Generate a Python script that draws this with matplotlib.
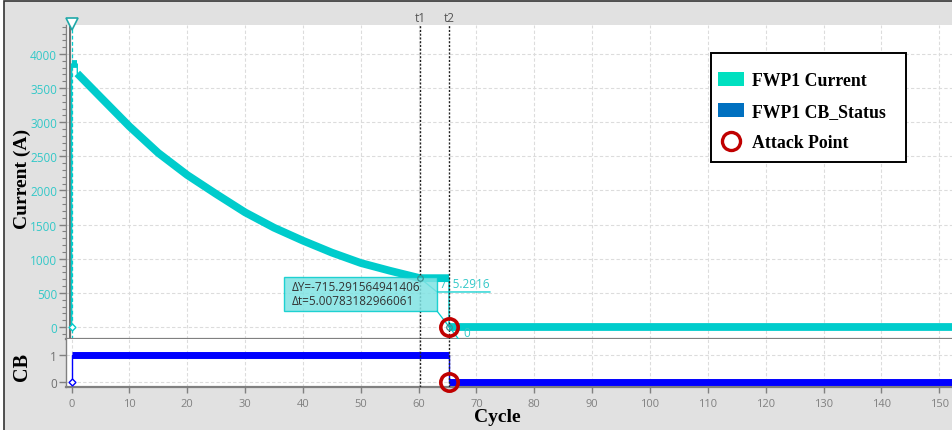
import matplotlib
matplotlib.use('Agg')
import matplotlib.pyplot as plt
from matplotlib.patches import Rectangle, Patch
from matplotlib.lines import Line2D
from matplotlib.ticker import MultipleLocator

# ---------------- data ----------------
delta_y = -715.291564941406
delta_t = 5.00783182966061
t1 = 60.25
t2 = t1 + delta_t
x_end = 153.0

current_cycle = [0.0, 0.0, 1.0, 1.0, 5, 10, 15, 20, 25, 30, 35, 40, 45, 50, 55, t1, t2, t2, x_end]
current_amp = [0, 3853, 3853, 3715, 3370, 2940, 2550, 2227, 1949, 1680, 1455, 1265, 1090, 938, 825,
               715.29, 715.29, 0, 0]
cb_cycle = [0.0, 0.0, t2, t2, x_end]
cb_status = [0, 1, 1, 0, 0]
attack_cycle = [t2]
attack_current = [0]
attack_cb = [0]
x_ticks = list(range(0, 151, 10))
cur_ticks = list(range(0, 4001, 500))
cb_ticks = [0, 1]
legend_labels = ['FWP1 Current', 'FWP1 CB_Status', 'Attack Point']

# ---------------- style ----------------
W, H = 953, 431
CYAN = '#00CCCC'
CYAN_TXT = '#33C8C8'
BLUE = '#0000FF'
RED = '#C00000'
GRAY = '#808080'
GRID = '#DCDCDC'
SANS = ['Open Sans', 'DejaVu Sans']
SERIF = ['Liberation Serif', 'DejaVu Serif']
plt.rcParams['font.family'] = SANS


def fx(px):
    return px / W


def fy(py):
    return 1 - py / H


def runs(xs, ys):
    segs, cur = [], [(xs[0], ys[0])]
    for i in range(1, len(xs)):
        if xs[i] == xs[i - 1]:
            segs.append(cur)
            cur = [(xs[i], ys[i])]
        else:
            cur.append((xs[i], ys[i]))
    segs.append(cur)
    return [s for s in segs if len(s) > 1]


fig = plt.figure(figsize=(W / 100, H / 100), dpi=100, facecolor='white')
fig.add_artist(Rectangle((fx(4), -0.02), 1.05, fy(2) + 0.02, transform=fig.transFigure,
                         facecolor='#E1E1E1', edgecolor='#333333', lw=1.2, zorder=-10))

xl = ((66 - 71.5) / 5.785, (953 - 71.5) / 5.785)
ax = fig.add_axes([fx(66), fy(340), 1 - fx(66), (340 - 26) / H])
axb = fig.add_axes([fx(66), fy(388), 1 - fx(66), (388 - 340) / H])

for a in (ax, axb):
    a.set_facecolor('white')
    a.set_xlim(*xl)
    for s in ('top', 'right'):
        a.spines[s].set_visible(False)
    a.spines['left'].set_color(GRAY)
    a.spines['left'].set_linewidth(1.0)
    a.spines['bottom'].set_color(GRAY)
    a.spines['bottom'].set_linewidth(1.6)
    a.set_axisbelow(True)

# ---- top panel ----
ax.set_ylim(-176, 4425)
ax.set_yticks(cur_ticks)
ax.yaxis.set_minor_locator(MultipleLocator(100))
ax.xaxis.set_major_locator(MultipleLocator(50))
ax.xaxis.set_minor_locator(MultipleLocator(10))
ax.tick_params(axis='x', which='major', length=3, width=1, color='#555555', labelbottom=False)
ax.tick_params(axis='x', which='minor', length=0)
ax.tick_params(axis='y', which='major', length=5, width=1, color=GRAY, pad=1.5,
               labelsize=8.5, labelcolor=CYAN_TXT)
ax.tick_params(axis='y', which='minor', length=3, width=0.8, color=GRAY)
ax.grid(axis='x', which='both', color=GRID, lw=0.8, ls=(0, (3, 2)))
ax.grid(axis='y', which='major', color=GRID, lw=0.8, ls=(0, (3, 2)))

ax.axvline(-0.3, color='#707070', lw=1.6, zorder=2)
ax.axvline(0, color=CYAN, lw=0.9, ls=(0, (3, 2)), zorder=2)
ax.plot(current_cycle, current_amp, color=CYAN, lw=1.0, zorder=3)
for seg in runs(current_cycle, current_amp):
    xs, ys = zip(*seg)
    ax.plot(xs, ys, color=CYAN, lw=5.6, solid_capstyle='butt', solid_joinstyle='round', zorder=3)
ax.plot([0], [4445], marker='v', ms=8, mfc='white', mec='#1FA8A8', mew=1.2, clip_on=False, zorder=6)
ax.plot([0], [0], marker='D', ms=3.5, mfc='white', mec=CYAN, mew=1, zorder=6)

# cursors
for a in (ax, axb):
    a.axvline(t1, color='#222222', lw=1.0, ls=(0, (1.5, 1.2)), zorder=4)
    a.axvline(t2, color='#222222', lw=1.0, ls=(0, (1.5, 1.2)), zorder=4)
for t, lab in ((t1, 't1'), (t2, 't2')):
    ax.text(t, 1.003, lab, transform=ax.get_xaxis_transform(), ha='center', va='bottom',
            fontsize=8.5, color='#555555')

# delta box
ax.add_patch(Rectangle((36.73, 234), 63.18 - 36.73, 733 - 234, facecolor='#7FE3E3',
                       edgecolor=CYAN, lw=1, alpha=0.85, zorder=5))
ax.text(38.0, 586, 'ΔY=%s' % repr(delta_y), fontsize=8.5, color='#333333', va='center', ha='left', zorder=6)
ax.text(38.0, 381, 'Δt=%s' % repr(delta_t), fontsize=8.5, color='#333333', va='center', ha='left', zorder=6)
ax.plot([t1, 63.18, 72.34], [715.29, 513, 513], color=CYAN, lw=0.9, zorder=4)
ax.text(63.6, 640, '%.4f' % (-delta_y), fontsize=8.5, color=CYAN_TXT, va='center', ha='left', zorder=2)
ax.plot([63.18, 67.16, 69.2], [234, -205, -205], color=CYAN, lw=0.9, zorder=4, clip_on=False)
ax.text(68.3, -75, '0', fontsize=8.5, color=CYAN_TXT, va='center', ha='center', zorder=4)
ax.plot([t1], [715.29], marker='o', ms=4, mfc='none', mec='#3A8F8F', mew=0.9, zorder=6)
ax.plot([t2], [0], marker='o', ms=4, mfc='none', mec='#3A8F8F', mew=0.9, zorder=6)

ax.plot(attack_cycle, attack_current, ls='none', marker='o', ms=12.5, mfc='none', mec=RED, mew=2.6,
        zorder=7, clip_on=False)

# ---- bottom panel ----
axb.set_ylim(-0.185, 1.593)
axb.set_yticks(cb_ticks)
axb.set_xticks(x_ticks)
axb.tick_params(axis='x', length=4, width=1, color=GRAY, pad=4, labelsize=8, labelcolor=GRAY)
axb.tick_params(axis='y', length=5, width=1, color=GRAY, pad=1.5, labelsize=8.5, labelcolor='#707070')
axb.grid(axis='both', which='major', color=GRID, lw=0.8, ls=(0, (3, 2)))
axb.plot(cb_cycle, cb_status, color=BLUE, lw=1.0, zorder=3)
for seg in runs(cb_cycle, cb_status):
    xs, ys = zip(*seg)
    axb.plot(xs, ys, color=BLUE, lw=5.0, solid_capstyle='butt', zorder=3)
axb.plot([0], [0], marker='D', ms=3.5, mfc='white', mec=BLUE, mew=1, zorder=6)
axb.plot(attack_cycle, attack_cb, ls='none', marker='o', ms=12.5, mfc='none', mec=RED, mew=2.6,
         zorder=7, clip_on=False)

# ---- axis labels ----
fig.text(fx(22), fy(179), 'Current (A)', rotation=90, ha='center', va='center',
         fontsize=14, fontweight='bold', family=SERIF)
fig.text(fx(22), fy(367), 'CB', rotation=90, ha='center', va='center',
         fontsize=14.5, fontweight='bold', family=SERIF)
fig.text(fx(497), fy(418), 'Cycle', ha='center', va='center',
         fontsize=14, fontweight='bold', family=SERIF)

# ---- legend ----
fig.add_artist(Rectangle((fx(711), fy(163)), (906 - 711) / W, (163 - 54) / H, transform=fig.transFigure,
                         facecolor='white', edgecolor='black', lw=1.4, zorder=20))
handles = [Patch(facecolor='#00E0C0', edgecolor='none'),
           Patch(facecolor='#0070C0', edgecolor='none'),
           Line2D([], [], ls='none', marker='o', ms=13, mfc='none', mec=RED, mew=2.4)]
leg = fig.legend(handles, legend_labels, loc='upper left', bbox_to_anchor=(fx(718), fy(72.5)),
                 bbox_transform=fig.transFigure, frameon=False, borderpad=0, borderaxespad=0,
                 handlelength=1.46, handleheight=0.9, handletextpad=0.45, labelspacing=0.77,
                 prop={'family': SERIF, 'weight': 'bold', 'size': 12.8})
leg.set_zorder(21)

fig.savefig('out.png', dpi=100, facecolor=fig.get_facecolor())
